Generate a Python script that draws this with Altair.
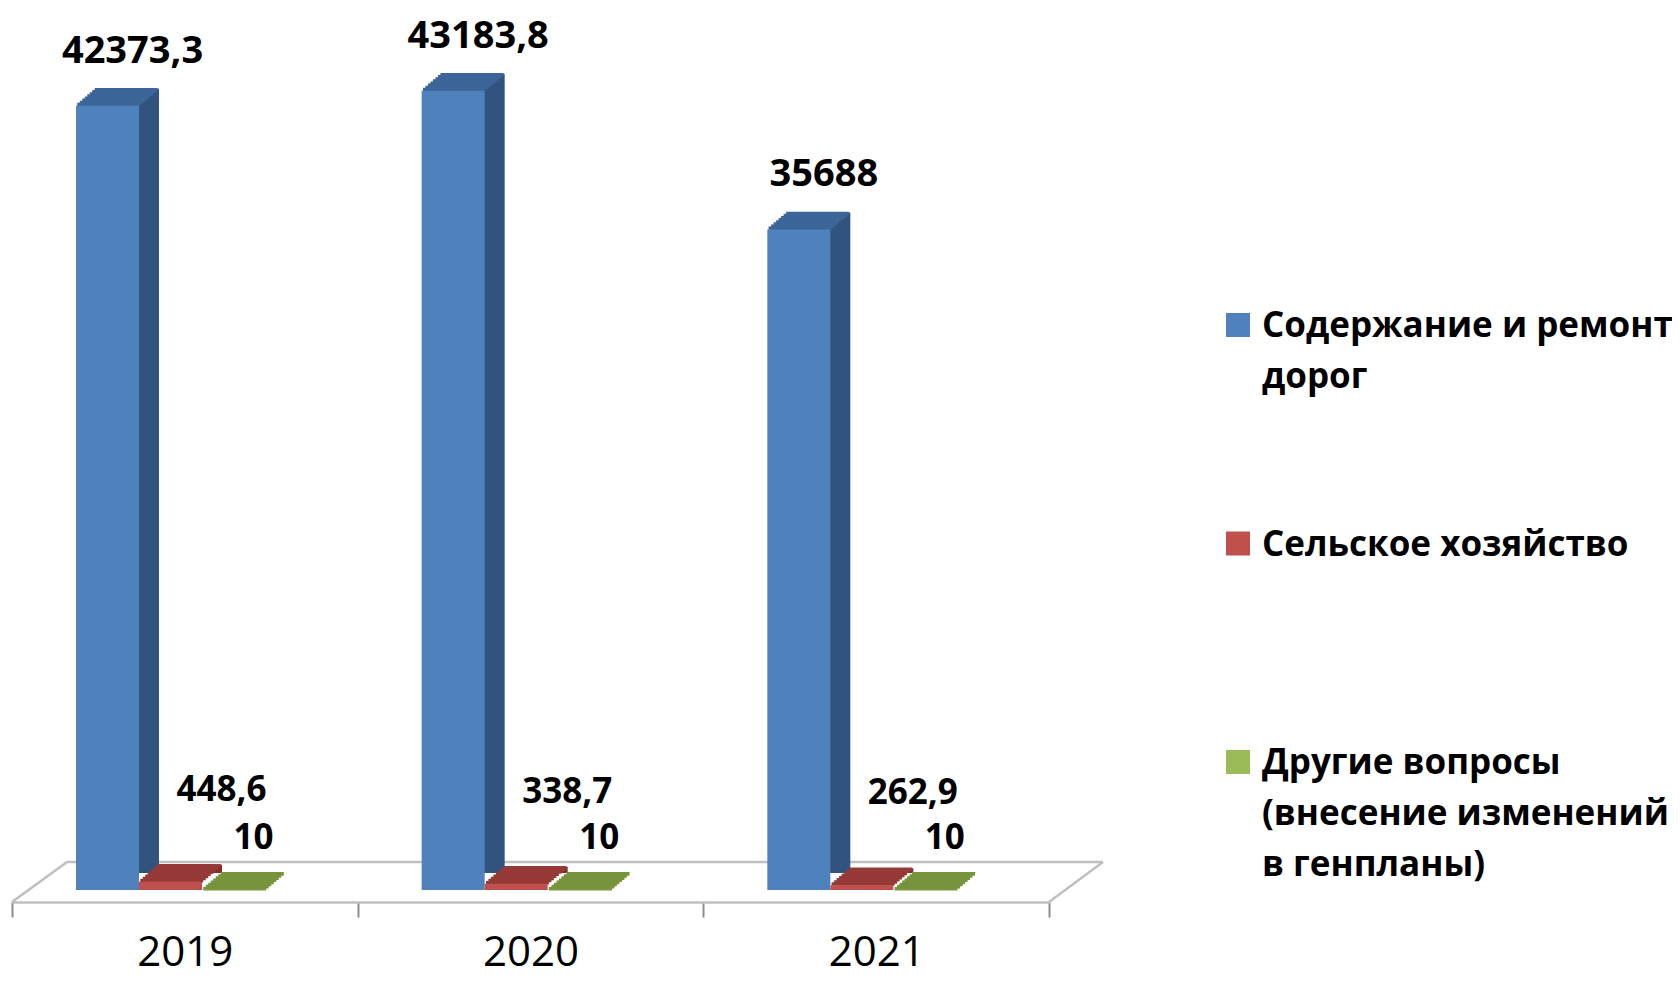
import altair as alt
import pandas as pd

# ---------------- data ----------------
years = ["2019", "2020", "2021"]
series = [
    "Содержание и ремонт дорог",
    "Сельское хозяйство",
    "Другие вопросы (внесение изменений в генпланы)",
]
roads = [42373.3, 43183.8, 35688]
agri = [448.6, 338.7, 262.9]
other = [10, 10, 10]
legend_lines = [
    ["Содержание и ремонт", "дорог"],
    ["Сельское хозяйство"],
    ["Другие вопросы", "(внесение изменений", "в генпланы)"],
]

front_colors = ["#4F81BD", "#C0504D", "#9BBB59"]
top_colors = ["#3C6598", "#963A37", "#77933C"]
side_colors = ["#31537D", "#7C2F2D", "#5F7A2F"]

rows = []
for vals, s in zip([roads, agri, other], series):
    for yr, v in zip(years, vals):
        rows.append({"year": yr, "series": s, "value": v})
df = pd.DataFrame(rows)

# ---------------- geometry ----------------
W, H = 1037, 877
Y_MAX = 47380
STEP = 63
LEFT = 64
DEPTH_X, DEPTH_Y = 20, 17
N_STRIPS = 8

yscale = alt.Scale(domain=[0, Y_MAX], nice=False, zero=True)

x_enc = alt.X(
    "year:O",
    scale=alt.Scale(domain=years, paddingInner=0, paddingOuter=0),
    axis=alt.Axis(
        title=None, offset=12, domainColor="#bfbfbf", domainWidth=2.5,
        tickBand="extent", tickColor="#8c8c8c", tickSize=15, tickWidth=2,
        labelFont="Open Sans", labelFontSize=42, labelColor="#000000",
        labelPadding=48, labelBaseline="alphabetic", labelAngle=0, grid=False,
    ),
)


def xoff(shift):
    return alt.XOffset(
        "series:N",
        scale=alt.Scale(type="band", domain=series, paddingInner=0, paddingOuter=0,
                        range=[LEFT + shift, LEFT + shift + 3 * STEP]),
    )


# centres of the front faces, for text
xoff_text = alt.XOffset(
    "series:N",
    scale=alt.Scale(type="point", domain=series, padding=0,
                    range=[LEFT + STEP / 2, LEFT + 2.5 * STEP]),
)


def col(rng):
    return alt.Color("series:N", scale=alt.Scale(domain=series, range=rng), legend=None)


base = alt.Chart(df).transform_calculate(
    label="replace(toString(datum.value), '.', ',')"
)

layers = []

# floor (decorative)
one = alt.Data(values=[{"k": 1}])
floor_style = dict(color="#bfbfbf", strokeWidth=2.5)
layers.append(alt.Chart(one).mark_rule(**floor_style).encode(
    x=alt.value(55), x2=alt.value(1091), y=alt.value(849), y2=alt.value(849)))
layers.append(alt.Chart(one).mark_rule(**floor_style).encode(
    x=alt.value(0), x2=alt.value(55), y=alt.value(889), y2=alt.value(849)))
layers.append(alt.Chart(one).mark_rule(**floor_style).encode(
    x=alt.value(1037), x2=alt.value(1091), y=alt.value(889), y2=alt.value(849)))

# side faces
layers.append(base.mark_bar(yOffset=-DEPTH_Y, y2Offset=-DEPTH_Y).encode(
    x=x_enc, xOffset=xoff(DEPTH_X),
    y=alt.Y("value:Q", scale=yscale, axis=None), y2=alt.Y2(datum=0),
    color=col(side_colors)))

# top faces (stair approximation of the parallelogram)
for k in range(1, N_STRIPS + 1):
    sh = DEPTH_X * (k - 0.5) / N_STRIPS
    layers.append(base.mark_bar(
        yOffset=-DEPTH_Y * k / N_STRIPS - 0.7,
        y2Offset=-DEPTH_Y * (k - 1) / N_STRIPS + 0.7,
    ).encode(
        x=x_enc, xOffset=xoff(sh),
        y=alt.Y("value:Q", scale=yscale, axis=None), y2=alt.Y2("value:Q"),
        color=col(top_colors)))

# front faces
layers.append(base.mark_bar().encode(
    x=x_enc, xOffset=xoff(0),
    y=alt.Y("value:Q", scale=yscale, axis=None), y2=alt.Y2(datum=0),
    color=col(front_colors)))

# value labels
label_styles = [(25, -54, 38), (51, -92, 35), (20, -52, 35)]
for s, (dx, dy, fs) in zip(series, label_styles):
    layers.append(base.transform_filter(alt.datum.series == s).mark_text(
        font="Open Sans", fontWeight="bold", fontSize=fs, color="#000000",
        align="center", baseline="middle", dx=dx, dy=dy,
    ).encode(
        x=x_enc, xOffset=xoff_text,
        y=alt.Y("value:Q", scale=yscale, axis=None),
        text="label:N"))

# legend
leg = alt.Data(values=[{"series": s, "lines": l} for s, l in zip(series, legend_lines)])
leg_y = alt.Y("series:N", scale=alt.Scale(type="point", domain=series, range=[312, 749], padding=0), axis=None)
layers.append(alt.Chart(leg).mark_square(size=576, opacity=1).encode(
    x=alt.value(1226), y=leg_y, color=col(front_colors)))
layers.append(alt.Chart(leg).mark_text(
    align="left", baseline="alphabetic", font="Open Sans", fontWeight="bold",
    fontSize=35, lineHeight=51, dy=12, color="#000000",
).encode(x=alt.value(1250), y=leg_y, text="lines:N"))

chart = alt.layer(*layers).resolve_scale(
    y="independent", xOffset="independent", color="independent"
).properties(
    width=W, height=H,
    padding={"left": 4, "top": 5, "right": 623, "bottom": 86},
    autosize=alt.AutoSizeParams(type="none"),
).configure_view(stroke=None)

chart.save("out.html", embed_options={"renderer": "svg", "actions": False})
